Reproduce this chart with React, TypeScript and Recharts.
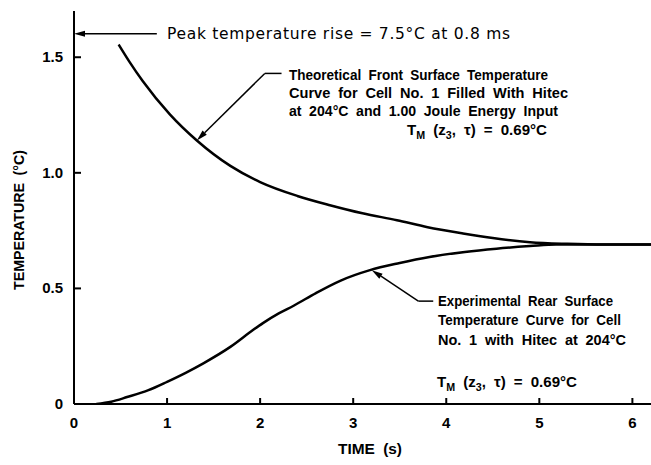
import React from "react";
import { LineChart, Line, XAxis, YAxis, ReferenceLine } from "recharts";

// theoretical front surface curve (s, °C)
const frontTime = [0.48, 0.6, 0.74, 1.03, 1.32, 1.68, 2.0, 2.4, 2.75, 3.1, 3.47, 3.8, 4.18, 4.5, 4.9, 5.3, 5.7, 6.2];
const frontTemp = [1.555, 1.478, 1.396, 1.253, 1.14, 1.03, 0.96, 0.9, 0.86, 0.825, 0.795, 0.765, 0.738, 0.718, 0.7, 0.693, 0.69, 0.69];

// experimental rear surface curve (s, °C)
const rearTime = [0.24, 0.4, 0.57, 0.8, 1.0, 1.2, 1.39, 1.68, 1.93, 2.03, 2.2, 2.36, 2.6, 2.86, 3.18, 3.5, 3.82, 4.2, 4.54, 4.9, 5.18, 5.6, 6.2];
const rearTemp = [0, 0.01, 0.03, 0.06, 0.096, 0.135, 0.176, 0.247, 0.322, 0.35, 0.392, 0.425, 0.48, 0.533, 0.579, 0.61, 0.636, 0.658, 0.672, 0.683, 0.69, 0.69, 0.69];

const xTicks = [0, 1, 2, 3, 4, 5, 6];
const topTicks = [1, 2, 3, 4, 5, 6];
const yTicks = [0, 0.5, 1.0, 1.5];
const yTickLabels = ["0", "0.5", "1.0", "1.5"];

const front = frontTime.map((t, i) => ({ t, v: frontTemp[i] }));
const rear = rearTime.map((t, i) => ({ t, v: rearTemp[i] }));

const NARROW = "'Liberation Sans', Arial, sans-serif";
const ROUND = "'DejaVu Sans', 'Open Sans', sans-serif";

const BottomTick = (p: any) => (
  <g>
    {p.payload.value !== 0 && <line x1={p.x} y1={p.y} x2={p.x} y2={p.y - 6} stroke="#000" strokeWidth={2} />}
    <text x={p.x} y={p.y + 24} textAnchor="middle" fontFamily={NARROW} fontWeight="bold" fontSize={15} fill="#000">
      {p.payload.value}
    </text>
  </g>
);

const TopTick = (p: any) => (
  <line x1={p.x} y1={p.y} x2={p.x} y2={p.y + 6} stroke="#000" strokeWidth={2} />
);

const LeftTick = (p: any) => {
  const i = yTicks.indexOf(p.payload.value);
  return (
    <g>
      {p.payload.value !== 0 && <line x1={p.x} y1={p.y} x2={p.x + 7} y2={p.y} stroke="#000" strokeWidth={2} />}
      <text x={p.x - 11} y={p.y + 5} textAnchor="end" fontFamily={NARROW} fontWeight="bold" fontSize={15} fill="#000">
        {yTickLabels[i]}
      </text>
    </g>
  );
};

// leader line with arrow head at (x2, y2)
const Arrow = (p: any) => {
  const a = Math.atan2(p.y2 - p.y1, p.x2 - p.x1);
  const L = 11, W = 3;
  const bx = p.x2 - L * Math.cos(a), by = p.y2 - L * Math.sin(a);
  const px = -Math.sin(a) * W, py = Math.cos(a) * W;
  return (
    <g>
      <line x1={p.x1} y1={p.y1} x2={bx} y2={by} stroke="#000" strokeWidth={1.5} />
      <polygon points={`${p.x2},${p.y2} ${bx + px},${by + py} ${bx - px},${by - py}`} fill="#000" />
    </g>
  );
};
const Stub = (p: any) => <line x1={p.x1} y1={p.y1} x2={p.x2} y2={p.y2} stroke="#000" strokeWidth={1.5} />;

const txt = { fontFamily: NARROW, fontWeight: "bold" as const, fontSize: 15.5, wordSpacing: 4, fill: "#000" };
const fit = "spacingAndGlyphs";

export default function App() {
  return (
    <div style={{ position: "absolute", left: 0, top: 0, width: 651, height: 465, background: "#fff" }}>
      <LineChart width={651} height={465} data={front} margin={{ top: 11, right: 0, bottom: 0, left: 0 }}>
        <XAxis
          dataKey="t" type="number" domain={[0, 6.2]} ticks={xTicks} interval={0} height={61}
          tickSize={0} tickMargin={0} tickLine={false} tick={BottomTick}
          axisLine={{ stroke: "#000", strokeWidth: 2 }} allowDataOverflow
        />
        <XAxis
          xAxisId="top" orientation="top" dataKey="t" type="number" domain={[0, 6.2]} ticks={topTicks}
          interval={0} height={0} tickSize={0} tickMargin={0} tickLine={false} tick={TopTick}
          axisLine={{ stroke: "#000", strokeWidth: 2 }} allowDataOverflow
        />
        <YAxis
          type="number" domain={[0, 1.7]} ticks={yTicks} interval={0} width={74}
          tickSize={0} tickMargin={0} tickLine={false} tick={LeftTick}
          axisLine={{ stroke: "#000", strokeWidth: 2 }} allowDataOverflow
        />
        <Line data={front} dataKey="v" type="monotone" stroke="#000" strokeWidth={2.5} dot={false} isAnimationActive={false} />
        <Line data={rear} dataKey="v" type="monotone" stroke="#000" strokeWidth={2.5} dot={false} isAnimationActive={false} />
        <ReferenceLine segment={[{ x: 0.89, y: 1.602 }, { x: 0, y: 1.602 }]} shape={Arrow} ifOverflow="visible" />
        <ReferenceLine segment={[{ x: 2.23, y: 1.43 }, { x: 2.05, y: 1.43 }]} shape={Stub} ifOverflow="visible" />
        <ReferenceLine segment={[{ x: 2.05, y: 1.43 }, { x: 1.32, y: 1.14 }]} shape={Arrow} ifOverflow="visible" />
        <ReferenceLine segment={[{ x: 3.86, y: 0.445 }, { x: 3.7, y: 0.445 }]} shape={Stub} ifOverflow="visible" />
        <ReferenceLine segment={[{ x: 3.7, y: 0.445 }, { x: 3.2, y: 0.579 }]} shape={Arrow} ifOverflow="visible" />
      </LineChart>
      <svg width={651} height={465} style={{ position: "absolute", left: 0, top: 0, pointerEvents: "none" }}>
        <text x={167} y={39} fontFamily={ROUND} fontSize={15.5} fill="#000" textLength={343} lengthAdjust="spacing">
          Peak temperature rise = 7.5°C at 0.8 ms
        </text>
        <text {...txt} x={289} y={80} textLength={259} lengthAdjust={fit}>Theoretical Front Surface Temperature</text>
        <text {...txt} x={289} y={98} textLength={279} lengthAdjust={fit}>Curve for Cell No. 1 Filled With Hitec</text>
        <text {...txt} x={289} y={116} textLength={269} lengthAdjust={fit}>at 204°C and 1.00 Joule Energy Input</text>
        <text {...txt} x={407} y={135} textLength={140} lengthAdjust={fit}>
          T<tspan dy={4} fontSize={11}>M</tspan><tspan dy={-4}> (z</tspan><tspan dy={4} fontSize={11}>3</tspan>
          <tspan dy={-4}>, τ) = 0.69°C</tspan>
        </text>
        <text {...txt} x={438} y={306} textLength={175} lengthAdjust={fit}>Experimental Rear Surface</text>
        <text {...txt} x={438} y={325} textLength={183} lengthAdjust={fit}>Temperature Curve for Cell</text>
        <text {...txt} x={438} y={345} textLength={188} lengthAdjust={fit}>No. 1 with Hitec at 204°C</text>
        <text {...txt} x={437} y={387} textLength={140} lengthAdjust={fit}>
          T<tspan dy={4} fontSize={11}>M</tspan><tspan dy={-4}> (z</tspan><tspan dy={4} fontSize={11}>3</tspan>
          <tspan dy={-4}>, τ) = 0.69°C</tspan>
        </text>
        <text {...txt} transform="rotate(-90)" x={-220} y={24} textAnchor="middle" textLength={140} lengthAdjust={fit}>TEMPERATURE (°C)</text>
        <text {...txt} x={370} y={454} textAnchor="middle" textLength={64} lengthAdjust={fit}>TIME (s)</text>
      </svg>
    </div>
  );
}
